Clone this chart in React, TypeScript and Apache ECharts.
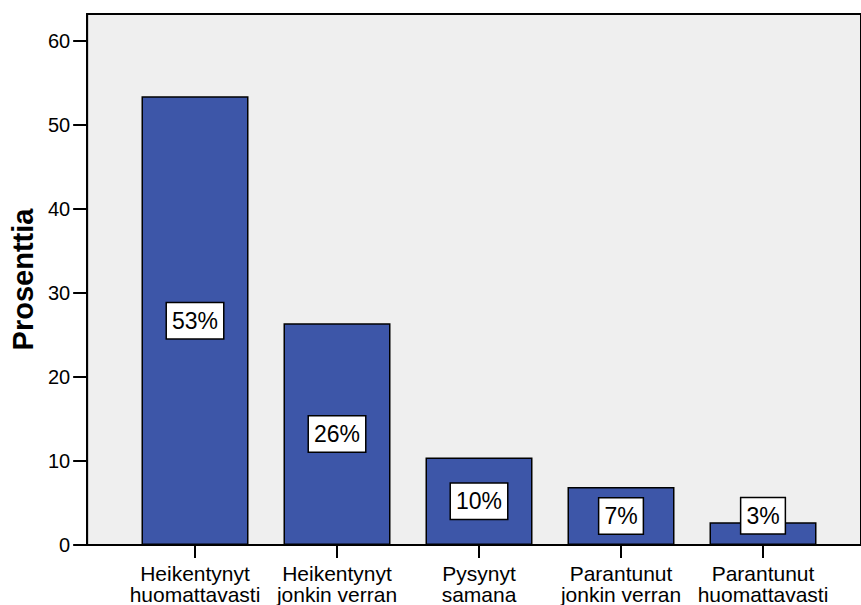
import React, { useEffect, useRef } from "react";
import * as echarts from "echarts";

const categories = [
  "Heikentynyt\nhuomattavasti",
  "Heikentynyt\njonkin verran",
  "Pysynyt\nsamana",
  "Parantunut\njonkin verran",
  "Parantunut\nhuomattavasti",
];
const percentages = [53.4, 26.4, 10.4, 6.9, 2.7];
const yTicks = [0, 10, 20, 30, 40, 50, 60];
const yTitle = "Prosenttia";

const FONT = "'Liberation Sans', Arial, Helvetica, sans-serif";
const Y_MAX = 63.2;

export default function App() {
  const ref = useRef<HTMLDivElement>(null);

  useEffect(() => {
    if (!ref.current) return;
    const chart = echarts.init(ref.current, undefined, { renderer: "svg" });

    // the smallest bar's label is lifted so its box stays above the axis
    const barData = percentages.map((v, i) =>
      i === percentages.length - 1
        ? { value: v, label: { offset: [0, -18] } }
        : { value: v }
    );

    chart.setOption({
      animation: false,
      backgroundColor: "#ffffff",
      grid: [
        {
          // framed plot area
          left: 85,
          top: 14,
          right: -6,
          bottom: 60,
          show: true,
          backgroundColor: "#efefef",
          borderColor: "#000",
          borderWidth: 2,
        },
        {
          // bars
          left: 124,
          top: 14,
          right: 27,
          bottom: 60,
        },
      ],
      xAxis: [
        {
          gridIndex: 0,
          type: "value",
          min: 0,
          max: 1,
          axisLine: { show: true, lineStyle: { color: "#000", width: 2 } },
          axisTick: { show: false },
          axisLabel: { show: false },
          splitLine: { show: false },
        },
        {
          gridIndex: 1,
          type: "category",
          data: categories,
          axisLine: { show: false },
          axisTick: {
            show: true,
            alignWithLabel: true,
            length: 13,
            lineStyle: { color: "#000", width: 2 },
          },
          axisLabel: {
            color: "#000",
            fontFamily: FONT,
            fontSize: 21,
            lineHeight: 21,
            margin: 18,
            interval: 0,
          },
        },
      ],
      yAxis: [
        {
          gridIndex: 0,
          type: "value",
          min: 0,
          max: Y_MAX,
          name: yTitle,
          nameLocation: "middle",
          nameGap: 50,
          nameTextStyle: {
            color: "#000",
            fontFamily: FONT,
            fontSize: 29,
            fontWeight: "bold",
          },
          axisLine: { show: true, lineStyle: { color: "#000", width: 2 } },
          axisTick: {
            show: true,
            length: 14,
            customValues: yTicks,
            lineStyle: { color: "#000", width: 2 },
          },
          axisLabel: {
            customValues: yTicks,
            color: "#000",
            fontFamily: FONT,
            fontSize: 20,
            margin: 17,
          },
          splitLine: { show: false },
        },
        {
          gridIndex: 1,
          type: "value",
          min: 0,
          max: Y_MAX,
          show: false,
        },
      ],
      series: [
        {
          type: "bar",
          xAxisIndex: 1,
          yAxisIndex: 1,
          data: barData,
          barWidth: 107,
          itemStyle: {
            color: "#3d56a8",
            borderColor: "#000",
            borderWidth: 1.5,
          },
          label: {
            show: true,
            position: "inside",
            formatter: (p: any) => `${Math.round(p.value)}%`,
            color: "#000",
            fontFamily: FONT,
            fontSize: 23,
            lineHeight: 23,
            backgroundColor: "#fff",
            borderColor: "#000",
            borderWidth: 1.5,
            padding: [6, 5, 6, 5],
          },
        },
      ],
    });

    return () => chart.dispose();
  }, []);

  return (
    <div
      ref={ref}
      style={{ position: "fixed", left: 0, top: 0, width: 861, height: 605 }}
    />
  );
}
